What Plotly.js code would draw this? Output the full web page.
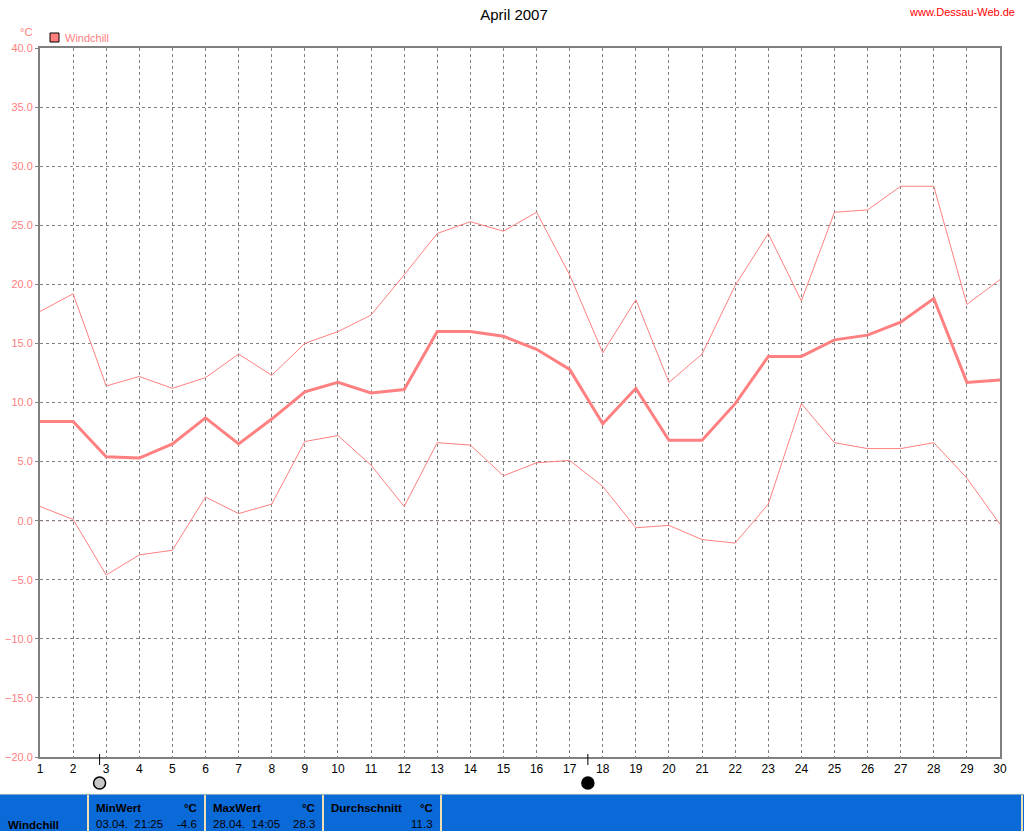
<!DOCTYPE html>
<html>
<head>
<meta charset="utf-8">
<script src="https://cdn.plot.ly/plotly-3.0.1.min.js"></script>
<style>html,body{margin:0;padding:0;background:#fff;}#chart{width:1024px;height:831px;}</style>
</head>
<body>
<div id="chart"></div>
<script>
// ---- data ----
const days = [1,2,3,4,5,6,7,8,9,10,11,12,13,14,15,16,17,18,19,20,21,22,23,24,25,26,27,28,29,30];
const windchillMax = [17.7,19.2,11.4,12.2,11.2,12.1,14.1,12.3,15.0,16.0,17.4,20.8,24.3,25.3,24.5,26.1,20.8,14.2,18.7,11.7,14.1,19.9,24.3,18.6,26.1,26.3,28.3,28.3,18.3,20.4];
const windchillAvg = [8.4,8.4,5.4,5.3,6.5,8.7,6.5,8.6,10.9,11.7,10.8,11.1,16.0,16.0,15.6,14.5,12.8,8.2,11.2,6.8,6.8,9.9,13.9,13.9,15.3,15.7,16.8,18.8,11.7,11.9];
const windchillMin = [1.2,0.1,-4.6,-2.9,-2.5,2.0,0.6,1.4,6.7,7.2,4.7,1.2,6.6,6.4,3.8,4.9,5.1,2.9,-0.6,-0.4,-1.6,-1.9,1.4,9.9,6.6,6.1,6.1,6.6,3.6,-0.3];
const moonDays = [2.8, 17.55];
const moonPhases = ['full', 'new'];
const seriesName = 'Windchill';
const chartTitle = 'April 2007';
const siteLabel = 'www.Dessau-Web.de';
const unitLabel = '°C';
const statHeaders = ['MinWert', 'MaxWert', 'Durchschnitt'];
const statTimes = ['03.04.  21:25', '28.04.  14:05', ''];
const statValues = ['-4.6', '28.3', '11.3'];

// ---- geometry helpers (plot area: x 40..1000, y 48..757) ----
const L = 40, R = 1000, T = 48, B = 757;
const px2x = p => (p - L) / (R - L);
const py2y = p => (B - p) / (B - T);

const pink = '#ff8080';
const traces = [
  {x: days, y: windchillMax, mode: 'lines', line: {color: pink, width: 1}, name: seriesName, hoverinfo: 'skip'},
  {x: days, y: windchillMin, mode: 'lines', line: {color: pink, width: 1}, name: seriesName, hoverinfo: 'skip'},
  {x: days, y: windchillAvg, mode: 'lines', line: {color: pink, width: 3}, name: seriesName, hoverinfo: 'skip'}
];

const shapes = [];
const annotations = [];
const font = 'Liberation Sans, Arial, sans-serif';

// zero line
shapes.push({type: 'line', xref: 'paper', yref: 'y', x0: 0, x1: 1, y0: 0, y1: 0,
  line: {color: '#dd0000', width: 1, dash: '3px,3px'}, layer: 'below'});

// moon phases
moonDays.forEach((d, i) => {
  shapes.push({type: 'line', xref: 'x', yref: 'paper', xsizemode: 'scaled', ysizemode: 'pixel',
    yanchor: 0, x0: d, x1: d, y0: -8, y1: 3, line: {color: '#000', width: 1}});
  shapes.push({type: 'circle', xref: 'x', yref: 'paper', xsizemode: 'pixel', ysizemode: 'pixel',
    xanchor: d, yanchor: 0, x0: -6, x1: 6, y0: -32, y1: -20,
    fillcolor: moonPhases[i] === 'full' ? '#c8c8c8' : '#000000',
    line: {color: '#000', width: 1.5}});
});

// legend
shapes.push({type: 'rect', xref: 'paper', yref: 'paper', x0: px2x(50), x1: px2x(59), y0: py2y(42), y1: py2y(33),
  fillcolor: pink, line: {color: '#000', width: 1}});
annotations.push({xref: 'paper', yref: 'paper', x: px2x(63), y: py2y(38), xanchor: 'left', yanchor: 'middle',
  text: seriesName, showarrow: false, font: {family: font, size: 11, color: pink}});
annotations.push({xref: 'paper', yref: 'paper', x: px2x(26), y: py2y(32), xanchor: 'center', yanchor: 'middle',
  text: unitLabel, showarrow: false, font: {family: font, size: 11, color: pink}});
annotations.push({xref: 'paper', yref: 'paper', x: px2x(1017), y: py2y(12), xanchor: 'right', yanchor: 'middle',
  text: siteLabel, showarrow: false, font: {family: font, size: 11, color: '#ff0000'}});

// bottom table
const tTop = 795, tBot = 831;
shapes.push({type: 'rect', xref: 'paper', yref: 'paper', x0: px2x(0), x1: px2x(1024), y0: py2y(tBot), y1: py2y(tTop - 1),
  fillcolor: '#0a6ad8', line: {width: 0}});
shapes.push({type: 'line', xref: 'paper', yref: 'paper', x0: px2x(0), x1: px2x(1024), y0: py2y(tTop - 1), y1: py2y(tTop - 1),
  line: {color: '#f3ead0', width: 1}});
const seps = [88, 205, 323, 441, 1022];
seps.forEach(s => shapes.push({type: 'line', xref: 'paper', yref: 'paper', x0: px2x(s), x1: px2x(s),
  y0: py2y(tBot), y1: py2y(tTop), line: {color: '#efdfb0', width: 2}}));
annotations.push({xref: 'paper', yref: 'paper', x: px2x(6), y: py2y(825), xanchor: 'left', yanchor: 'middle',
  text: '<b>' + seriesName + '</b>', showarrow: false, font: {family: font, size: 11.5, color: '#000'}});
statHeaders.forEach((h, i) => {
  const left = seps[i] + 6, right = seps[i + 1] - 6;
  annotations.push({xref: 'paper', yref: 'paper', x: px2x(left), y: py2y(808), xanchor: 'left', yanchor: 'middle',
    text: '<b>' + h + '</b>', showarrow: false, font: {family: font, size: 11.5, color: '#000'}});
  annotations.push({xref: 'paper', yref: 'paper', x: px2x(right), y: py2y(808), xanchor: 'right', yanchor: 'middle',
    text: '<b>' + unitLabel + '</b>', showarrow: false, font: {family: font, size: 11.5, color: '#000'}});
  if (statTimes[i]) annotations.push({xref: 'paper', yref: 'paper', x: px2x(left), y: py2y(824), xanchor: 'left', yanchor: 'middle',
    text: statTimes[i].replace(/ /g, '&nbsp;'), showarrow: false, font: {family: font, size: 11.5, color: '#000'}});
  annotations.push({xref: 'paper', yref: 'paper', x: px2x(right), y: py2y(824), xanchor: 'right', yanchor: 'middle',
    text: statValues[i], showarrow: false, font: {family: font, size: 11.5, color: '#000'}});
});

const layout = {
  width: 1024, height: 831,
  margin: {l: L, r: 1024 - R, t: T, b: 831 - B, pad: 0},
  paper_bgcolor: '#ffffff', plot_bgcolor: '#ffffff',
  showlegend: false,
  title: {text: chartTitle, x: 514 / 1024, xref: 'container', xanchor: 'center', y: 1 - 15 / 831, yref: 'container', yanchor: 'middle',
    font: {family: font, size: 15, color: '#000'}},
  xaxis: {range: [1, 30], tickvals: days, ticktext: days.map(String), showgrid: true, gridcolor: '#808080', gridwidth: 1,
    griddash: '3px,3px', zeroline: false, showline: true, mirror: true, linecolor: '#808080', linewidth: 2,
    ticks: '', tickfont: {family: font, size: 12, color: '#000'}, fixedrange: true},
  yaxis: {range: [-20, 40], dtick: 5, tick0: 0, tickformat: '.1f', showgrid: true, gridcolor: '#808080', gridwidth: 1,
    griddash: '3px,3px', zeroline: false, showline: true, mirror: true, linecolor: '#808080', linewidth: 2,
    ticks: 'outside', ticklen: 3, tickcolor: '#808080', tickfont: {family: font, size: 11, color: pink}, fixedrange: true},
  shapes: shapes,
  annotations: annotations
};

Plotly.newPlot('chart', traces, layout, {displayModeBar: false, staticPlot: true});
</script>
</body>
</html>
